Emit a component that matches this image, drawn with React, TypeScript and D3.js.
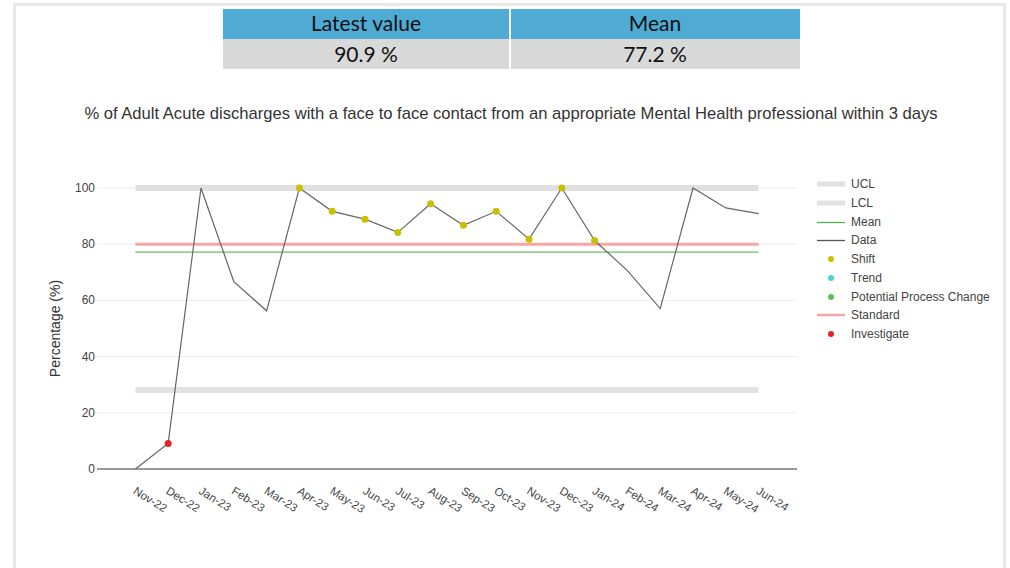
import * as d3 from 'd3';

const months = ['Nov-22', 'Dec-22', 'Jan-23', 'Feb-23', 'Mar-23', 'Apr-23', 'May-23', 'Jun-23', 'Jul-23', 'Aug-23',
  'Sep-23', 'Oct-23', 'Nov-23', 'Dec-23', 'Jan-24', 'Feb-24', 'Mar-24', 'Apr-24', 'May-24', 'Jun-24'];
const values = [0, 9.1, 100, 66.7, 56.3, 100, 91.7, 88.9, 84.2, 94.4,
  86.7, 91.7, 81.8, 100, 81.3, 70.6, 57.1, 100, 92.9, 90.9];
// point flags: 's' = shift, 'i' = investigate
const flags = ['', 'i', '', '', '', 's', 's', 's', 's', 's',
  's', 's', 's', 's', 's', '', '', '', '', ''];
const yTicks = [0, 20, 40, 60, 80, 100];
const ucl = 100;
const lcl = 28.1;
const mean = 77.2;
const standard = 80;
const latestLabel = '90.9 %';
const meanLabel = '77.2 %';

const legendItems = [
  { label: 'UCL', kind: 'band', color: '#e0e0e0' },
  { label: 'LCL', kind: 'band', color: '#e2e2e2' },
  { label: 'Mean', kind: 'line', color: '#4cb84c' },
  { label: 'Data', kind: 'line', color: '#555' },
  { label: 'Shift', kind: 'dot', color: '#c9c000' },
  { label: 'Trend', kind: 'dot', color: '#4fd0d0' },
  { label: 'Potential Process Change', kind: 'dot', color: '#5cbf5c' },
  { label: 'Standard', kind: 'std', color: '#f7a5a5' },
  { label: 'Investigate', kind: 'dot', color: '#e8202a' },
];

const font = '"Liberation Sans", Arial, sans-serif';

export default function App() {
  const x = d3.scalePoint<string>().domain(months).range([97, 797]).padding(1.17);
  const y = d3.scaleLinear().domain([0, 100]).range([469, 188]);
  const x0 = x(months[0])!;
  const x1 = x(months[months.length - 1])!;

  const line = d3.line<number>()
    .x((_, i) => x(months[i])!)
    .y(d => y(d));

  return (
    <svg width={1010} height={568} style={{ position: 'absolute', left: 0, top: 0, background: '#fff' }}>
      {/* frame */}
      <rect x={14.5} y={4.5} width={990} height={580} fill="none" stroke="#e8e8e8" strokeWidth={3} />

      {/* KPI table */}
      <g fontFamily='Lato, "Open Sans", sans-serif' fontSize={21} fill="#111" textAnchor="middle">
        <rect x={223} y={9} width={286} height={30} fill="#4faad4" />
        <rect x={511} y={9} width={289} height={30} fill="#4faad4" />
        <rect x={223} y={39} width={286} height={30} fill="#d9d9d9" />
        <rect x={511} y={39} width={289} height={30} fill="#d9d9d9" />
        <text x={366} y={31}>Latest value</text>
        <text x={655} y={31}>Mean</text>
        <text x={366} y={62}>{latestLabel}</text>
        <text x={655} y={62}>{meanLabel}</text>
      </g>

      <text x={511} y={119} textAnchor="middle" fontFamily={font} fontSize={16.6} fill="#333">
        % of Adult Acute discharges with a face to face contact from an appropriate Mental Health professional within 3 days
      </text>

      {/* grid */}
      {yTicks.map(t => (
        <g key={t}>
          {t > 0 && <line x1={97} x2={797} y1={y(t)} y2={y(t)} stroke="#eeeeee" strokeWidth={1} />}
          <text x={95} y={y(t) + 4} textAnchor="end" fontFamily={font} fontSize={12} fill="#444">{t}</text>
        </g>
      ))}
      <line x1={97} x2={797} y1={y(0)} y2={y(0)} stroke="#999" strokeWidth={2} />

      <text transform={`translate(60,${(y(0) + y(100)) / 2}) rotate(-90)`} textAnchor="middle"
        fontFamily={font} fontSize={14} fill="#333">Percentage (%)</text>

      {/* control limits */}
      <line x1={x0} x2={x1} y1={y(ucl)} y2={y(ucl)} stroke="#e0e0e0" strokeWidth={6} />
      <line x1={x0} x2={x1} y1={y(lcl)} y2={y(lcl)} stroke="#e2e2e2" strokeWidth={6} />
      <line x1={x0} x2={x1} y1={y(standard)} y2={y(standard)} stroke="#f7a5a5" strokeWidth={3} />
      <line x1={x0} x2={x1} y1={y(mean)} y2={y(mean)} stroke="#3cb43c" strokeWidth={1} />

      {/* data */}
      <path d={line(values)!} fill="none" stroke="#666" strokeWidth={1.2} />
      {values.map((v, i) => flags[i] && (
        <circle key={i} cx={x(months[i])} cy={y(v)} r={3.5}
          fill={flags[i] === 's' ? '#c9c000' : '#e8202a'} />
      ))}

      {/* x labels */}
      {months.map(m => (
        <text key={m} transform={`translate(${x(m)! - 3},${493}) rotate(32)`} fontFamily={font}
          fontSize={11.5} fill="#444">{m}</text>
      ))}

      {/* legend */}
      {legendItems.map((it, i) => {
        const ly = Math.round(184 + i * 18.75);
        return (
          <g key={it.label}>
            {it.kind === 'band' && <line x1={817} x2={845} y1={ly} y2={ly} stroke={it.color} strokeWidth={5} />}
            {it.kind === 'line' && <line x1={817} x2={845} y1={ly + 0.5} y2={ly + 0.5} stroke={it.color} strokeWidth={1.3} />}
            {it.kind === 'std' && <line x1={817} x2={845} y1={ly} y2={ly} stroke={it.color} strokeWidth={2.5} />}
            {it.kind === 'dot' && <circle cx={831} cy={ly} r={3} fill={it.color} />}
            <text x={851} y={ly + 4} fontFamily={font} fontSize={12} fill="#444">{it.label}</text>
          </g>
        );
      })}
    </svg>
  );
}
